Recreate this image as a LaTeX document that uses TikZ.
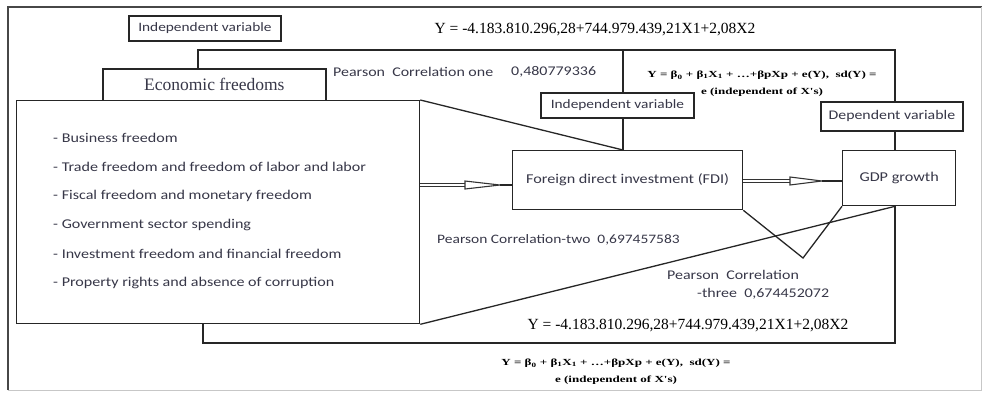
\documentclass[tikz,border=0pt]{standalone}
\usepackage{fontspec}
\setmainfont{Liberation Serif}
\newfontfamily\calB{Carlito}[FakeStretch=1.2]
\newfontfamily\serB{Liberation Serif}[FakeStretch=1.4]
\usetikzlibrary{calc}
\definecolor{txt}{RGB}{55,55,72}
\begin{document}
\begin{tikzpicture}[x=1pt,y=-1pt,
  box/.style={draw=black!85, line width=1.3pt, fill=white, anchor=north west, inner sep=0pt, text=txt},
  lbl/.style={box, line width=1.8pt},
  conn/.style={draw=black!85, line width=1.3pt},
  dbl/.style={draw=black!80, double=white, double distance=1.1pt, line width=1.1pt},
  headst/.style={draw=black!80, fill=white, line width=1.1pt, line join=miter},
  sans/.style={inner sep=0pt, text=txt, font=\calB\fontsize{13.3}{15}\selectfont},
  item/.style={inner sep=0pt, anchor=west, text=txt, font=\calB\fontsize{13.4}{16}\selectfont},
  eq/.style={inner sep=0pt, font=\fontsize{15.5}{17}\selectfont},
  smalleq/.style={inner sep=0pt, align=center, font=\serB\bfseries\fontsize{9.3}{17}\selectfont}
]
\useasboundingbox (0,0) rectangle (983,392);
% outer frame
\draw[black!72, line width=2pt] (8,390) -- (8,7) -- (982,7);
\draw[black!22, line width=1pt] (981,7) -- (981,390) -- (8,390);

% boxes
\node[lbl, minimum width=152, minimum height=25, font=\calB\fontsize{12.8}{15}\selectfont] (ind1) at (128,15) {Independent variable};
\node[box, line width=1.6pt, minimum width=223, minimum height=32, font=\fontsize{17.5}{19}\selectfont] (econ) at (102,68) {Economic freedoms};
\node[box, minimum width=403, minimum height=223] (big) at (16,100) {};
\node[lbl, minimum width=153, minimum height=25, font=\calB\fontsize{12.8}{15}\selectfont] (ind2) at (540,92) {Independent variable};
\node[lbl, minimum width=142, minimum height=29, font=\calB\fontsize{13.2}{15}\selectfont] (dep) at (820,101) {Dependent variable};
\node[box, minimum width=230, minimum height=59, font=\calB\fontsize{13.5}{15}\selectfont] (fdi) at (512,150) {Foreign direct investment (FDI)};
\node[box, minimum width=113, minimum height=55, font=\calB\fontsize{13.5}{15}\selectfont] (gdp) at (842,150) {GDP growth};

% list items
\node[item] (i1) at (53,138) {- Business freedom};
\node[item] (i2) at (53,167) {- Trade freedom and freedom of labor and labor};
\node[item] (i3) at (53,196) {- Fiscal freedom and monetary freedom};
\node[item] (i4) at (53,225) {- Government sector spending};
\node[item] (i5) at (53,254) {- Investment freedom and financial freedom};
\node[item] (i6) at (53,283) {- Property rights and absence of corruption};

% texts
\node[eq] (f1) at (595,30) {Y = -4.183.810.296,28+744.979.439,21X1+2,08X2};
\node[sans, anchor=west] (pc1) at (333,72) {Pearson\ \ Correlation one};
\node[sans, anchor=west] (pc1v) at (511,72) {0,480779336};
\node[smalleq] (f2) at (762,84) {Y = β\textsubscript{0} + β\textsubscript{1}X\textsubscript{1} + …+βpXp + e(Y),\ \ sd(Y) =\\ e (independent of X's)};
\node[sans, anchor=west, font=\calB\fontsize{12.9}{15}\selectfont] (pc2) at (437,240) {Pearson Correlation-two\ \ 0,697457583};
\node[sans, anchor=west] (pc3) at (667,275) {Pearson\ \ Correlation};
\node[sans, anchor=west] (pc3v) at (697,294) {-three\ \ 0,674452072};
\node[eq] (f3) at (688,326) {Y = -4.183.810.296,28+744.979.439,21X1+2,08X2};
\node[smalleq] (f4) at (616,372) {Y = β\textsubscript{0} + β\textsubscript{1}X\textsubscript{1} + …+βpXp + e(Y),\ \ sd(Y) =\\ e (independent of X's)};

% connectors
\coordinate (bl) at (198,50);
\coordinate (bm) at (623,50);
\coordinate (br) at (895,50);
\coordinate (vb) at (803,258);
\coordinate (bb) at (203,343);
\draw[conn] (econ.north -| bl) -- (bl) -- (br) -- (dep.north -| br);
\draw[conn] (bm) -- (ind2.north -| bm);
\draw[conn] (ind2.south -| bm) -- (fdi.north -| bm);
\draw[conn] (dep.south -| br) -- (gdp.north -| br);
\draw[conn] (big.north east) -- (fdi.north -| bm);
\draw[conn] (big.south east) -- (gdp.south -| br);
\draw[conn] (fdi.south east) -- (vb) -- (gdp.south west);
\draw[conn] (big.south -| bb) -- (bb) -- (bb -| br) -- (gdp.south -| br);

% double arrows
\coordinate (a1h) at (465,185);
\coordinate (a1t) at (500,185);
\draw[dbl] (big.east |- a1h) -- (a1h);
\draw[headst] ($(a1h)+(0,-4)$) -- (a1t) -- ($(a1h)+(0,4)$) -- cycle;
\draw[conn] (a1t) -- (fdi.west |- a1t);
\coordinate (a2h) at (790,181);
\coordinate (a2t) at (822,181);
\draw[dbl] (fdi.east |- a2h) -- (a2h);
\draw[headst] ($(a2h)+(0,-4)$) -- (a2t) -- ($(a2h)+(0,4)$) -- cycle;
\draw[conn] (a2t) -- (gdp.west |- a2t);
\end{tikzpicture}
\end{document}
